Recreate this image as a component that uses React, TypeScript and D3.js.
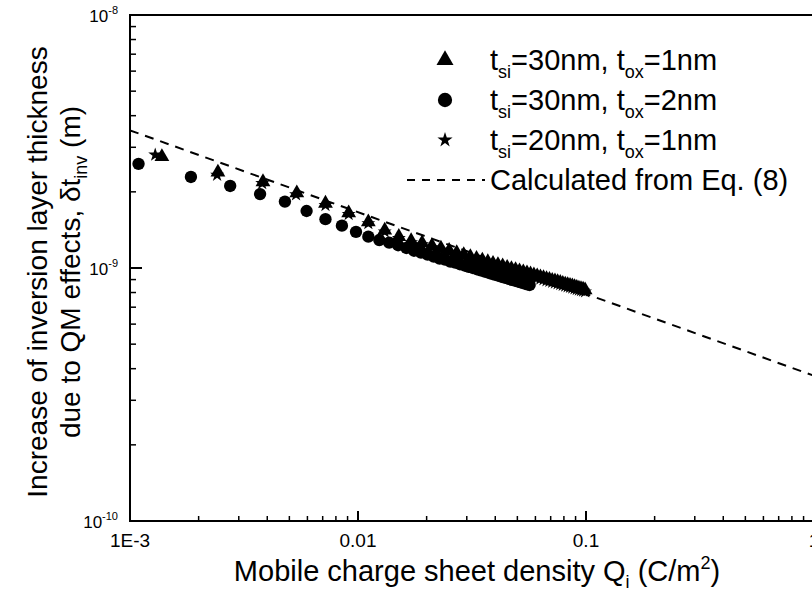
import React from 'react';
import * as d3 from 'd3';

// Data (Qi in C/m^2, delta t_inv in units of 1e-9 m)
const triQ = [0.00138, 0.00243, 0.00383, 0.00539, 0.0072, 0.0091, 0.0111, 0.0131, 0.0151, 0.0171, 0.0191, 0.0211, 0.0231, 0.0251, 0.0271, 0.0291, 0.0311, 0.0331, 0.0351, 0.0371, 0.0391, 0.0411, 0.0431, 0.0451, 0.0471, 0.0491, 0.0511, 0.0531, 0.0551, 0.0571, 0.0591, 0.0611, 0.0631, 0.0651, 0.0671, 0.0691, 0.0711, 0.0731, 0.0751, 0.0771, 0.0791, 0.0811, 0.0831, 0.0851, 0.0871, 0.0891, 0.0911, 0.0931, 0.0951, 0.0971, 0.0991];
const triD = [2.75, 2.39, 2.19, 1.98, 1.80, 1.65, 1.52, 1.41, 1.33, 1.28, 1.256, 1.224, 1.196, 1.171, 1.148, 1.127, 1.107, 1.089, 1.073, 1.057, 1.042, 1.030, 1.018, 1.005, 0.993, 0.984, 0.973, 0.964, 0.955, 0.946, 0.937, 0.929, 0.921, 0.914, 0.906, 0.900, 0.893, 0.887, 0.881, 0.875, 0.869, 0.863, 0.858, 0.853, 0.848, 0.842, 0.837, 0.832, 0.828, 0.824, 0.818];

const cirQ = [0.00109, 0.00185, 0.00275, 0.00372, 0.00478, 0.00595, 0.0072, 0.0085, 0.0098, 0.0111, 0.0124, 0.0137, 0.015, 0.0163, 0.0176, 0.0189, 0.0202, 0.0215, 0.0228, 0.0241, 0.0254, 0.0267, 0.028, 0.0293, 0.0306, 0.0319, 0.0332, 0.0345, 0.0358, 0.0371, 0.0384, 0.0397, 0.041, 0.0423, 0.0436, 0.0449, 0.0462, 0.0475, 0.0488, 0.0501, 0.0514, 0.0527, 0.054, 0.0553, 0.0566];
const cirD = [2.58, 2.29, 2.11, 1.96, 1.83, 1.68, 1.56, 1.47, 1.39, 1.33, 1.29, 1.26, 1.23, 1.20, 1.17, 1.15, 1.13, 1.11, 1.09, 1.08, 1.06, 1.05, 1.035, 1.023, 1.011, 1.000, 0.989, 0.979, 0.969, 0.960, 0.951, 0.942, 0.934, 0.926, 0.919, 0.912, 0.904, 0.897, 0.891, 0.885, 0.879, 0.873, 0.867, 0.861, 0.857];

const starQ = [0.00129, 0.00241, 0.0038, 0.00535, 0.0072, 0.0091, 0.0111, 0.0131, 0.0151, 0.0171, 0.0191, 0.0211, 0.0231, 0.0251, 0.0271, 0.0291, 0.0311, 0.0331, 0.0351, 0.0371, 0.0391, 0.0411, 0.0431, 0.0451, 0.0471, 0.0491, 0.0511, 0.0531, 0.0551, 0.0571, 0.0591, 0.0611, 0.0631, 0.0651, 0.0671, 0.0691, 0.0711, 0.0731, 0.0751, 0.0771, 0.0791, 0.0811, 0.0831, 0.0851, 0.0871, 0.0891, 0.0911, 0.0931, 0.0951, 0.0971, 0.0991];
const starD = [2.80, 2.33, 2.16, 1.95, 1.77, 1.63, 1.50, 1.39, 1.31, 1.26, 1.237, 1.206, 1.178, 1.153, 1.131, 1.110, 1.090, 1.073, 1.057, 1.041, 1.026, 1.015, 1.003, 0.990, 0.978, 0.969, 0.958, 0.950, 0.941, 0.932, 0.923, 0.915, 0.907, 0.900, 0.892, 0.887, 0.880, 0.874, 0.868, 0.862, 0.856, 0.850, 0.845, 0.840, 0.835, 0.829, 0.824, 0.820, 0.816, 0.812, 0.806];

// Calculated from Eq. (8)
const calcQ = [1e-3, 1];
const calcD = [3.5e-9, 3.75e-10];

const xMajor = [1e-3, 1e-2, 1e-1, 1];
const xLabels = ['1E-3', '0.01', '0.1', '1'];
const yMajor = [1e-10, 1e-9, 1e-8];
const yExp = ['-10', '-9', '-8'];

const legendSi = ['30', '30', '20'];
const legendOx = ['1', '2', '1'];
const legendCalc = 'Calculated from Eq. (8)';

const FONT = "'Liberation Sans', Arial, Helvetica, sans-serif";
const W = 812;
const H = 592;
const L = 130, R = 814, T = 15, B = 521;

export default function App() {
  const x = d3.scaleLog().domain([1e-3, 1]).range([L, R]);
  const y = d3.scaleLog().domain([1e-10, 1e-8]).range([B, T]);

  const minorX: number[] = [];
  for (let e = -3; e < 0; e++) for (let k = 2; k <= 9; k++) minorX.push(k * Math.pow(10, e));
  const minorY: number[] = [];
  for (let e = -10; e < -8; e++) for (let k = 2; k <= 9; k++) minorY.push(k * Math.pow(10, e));

  const tri = d3.symbol().type(d3.symbolTriangle).size(95)()!;
  const cir = d3.symbol().type(d3.symbolCircle).size(120)()!;
  const star = d3.symbol().type(d3.symbolStar).size(60)()!;
  const triL = d3.symbol().type(d3.symbolTriangle).size(125)()!;
  const cirL = d3.symbol().type(d3.symbolCircle).size(160)()!;
  const starL = d3.symbol().type(d3.symbolStar).size(72)()!;

  const line = d3.line<number>().x((d, i) => x(calcQ[i])).y((d) => y(d));

  const legendX = 445;
  const legendRows = [60, 100, 140, 180];
  const legendShapes = [triL, cirL, starL];
  const lf = 29;
  const sf = 18;

  return (
    <svg width={W} height={H} style={{ position: 'absolute', left: 0, top: 0, background: '#fff' }} fontFamily={FONT}>
      <rect x={0} y={0} width={W} height={H} fill="#fff" />
      <defs>
        <clipPath id="plotclip">
          <rect x={L} y={T} width={R - L} height={B - T} />
        </clipPath>
      </defs>
      <path d={line(calcD) || ''} fill="none" stroke="#000" strokeWidth={2} strokeDasharray="9,7" clipPath="url(#plotclip)" />
      <g fill="#000">
        {triQ.map((q, i) => (
          <path key={'t' + i} d={tri} transform={`translate(${x(q)},${y(triD[i] * 1e-9)})`} />
        ))}
        {starQ.map((q, i) => (
          <path key={'s' + i} d={star} transform={`translate(${x(q)},${y(starD[i] * 1e-9)})`} />
        ))}
        {cirQ.map((q, i) => (
          <path key={'c' + i} d={cir} transform={`translate(${x(q)},${y(cirD[i] * 1e-9)})`} />
        ))}
      </g>
      <rect x={L} y={T} width={R - L} height={B - T} fill="none" stroke="#000" strokeWidth={2} />
      {xMajor.map((v) => (
        <line key={'xm' + v} x1={x(v)} x2={x(v)} y1={B} y2={B - 10} stroke="#000" strokeWidth={2} />
      ))}
      {minorX.map((v) => (
        <line key={'xn' + v} x1={x(v)} x2={x(v)} y1={B} y2={B - 5} stroke="#000" strokeWidth={1.5} />
      ))}
      {xMajor.map((v, i) => (
        <text key={'xl' + v} x={x(v)} y={B + 26} fontSize={19} textAnchor="middle">{xLabels[i]}</text>
      ))}
      {yMajor.map((v) => (
        <line key={'ym' + v} x1={L} x2={L + 12} y1={y(v)} y2={y(v)} stroke="#000" strokeWidth={2} />
      ))}
      {minorY.map((v) => (
        <line key={'yn' + v} x1={L} x2={L + 6} y1={y(v)} y2={y(v)} stroke="#000" strokeWidth={1.5} />
      ))}
      {yMajor.map((v, i) => (
        <text key={'yl' + v} x={118} y={y(v) + 7} fontSize={17} textAnchor="end">
          10<tspan dy={-8} fontSize={11}>{yExp[i]}</tspan>
        </text>
      ))}
      <text x={477} y={581} fontSize={29} textAnchor="middle">
        Mobile charge sheet density Q<tspan dy={7} fontSize={sf}>i</tspan><tspan dy={-7}> (C/m</tspan><tspan dy={-12} fontSize={sf}>2</tspan><tspan dy={12}>)</tspan>
      </text>
      <g transform="rotate(-90)">
        <text x={-272} y={47} fontSize={28} textAnchor="middle">Increase of inversion layer thickness</text>
        <text x={-272} y={80} fontSize={28} textAnchor="middle">
          due to QM effects, δt<tspan dy={7} fontSize={sf}>inv</tspan><tspan dy={-7}> (m)</tspan>
        </text>
      </g>
      {legendShapes.map((s, i) => (
        <g key={'lg' + i}>
          <path d={s} transform={`translate(${legendX},${legendRows[i]})`} fill="#000" />
          <text x={legendX + 45} y={legendRows[i] + 10} fontSize={lf}>
            t<tspan dy={8} fontSize={sf}>si</tspan><tspan dy={-8}>={legendSi[i]}nm, t</tspan><tspan dy={8} fontSize={sf}>ox</tspan><tspan dy={-8}>={legendOx[i]}nm</tspan>
          </text>
        </g>
      ))}
      <line x1={legendX - 38} x2={legendX + 40} y1={legendRows[3]} y2={legendRows[3]} stroke="#000" strokeWidth={2} strokeDasharray="8,7" />
      <text x={legendX + 45} y={legendRows[3] + 10} fontSize={lf}>{legendCalc}</text>
    </svg>
  );
}
